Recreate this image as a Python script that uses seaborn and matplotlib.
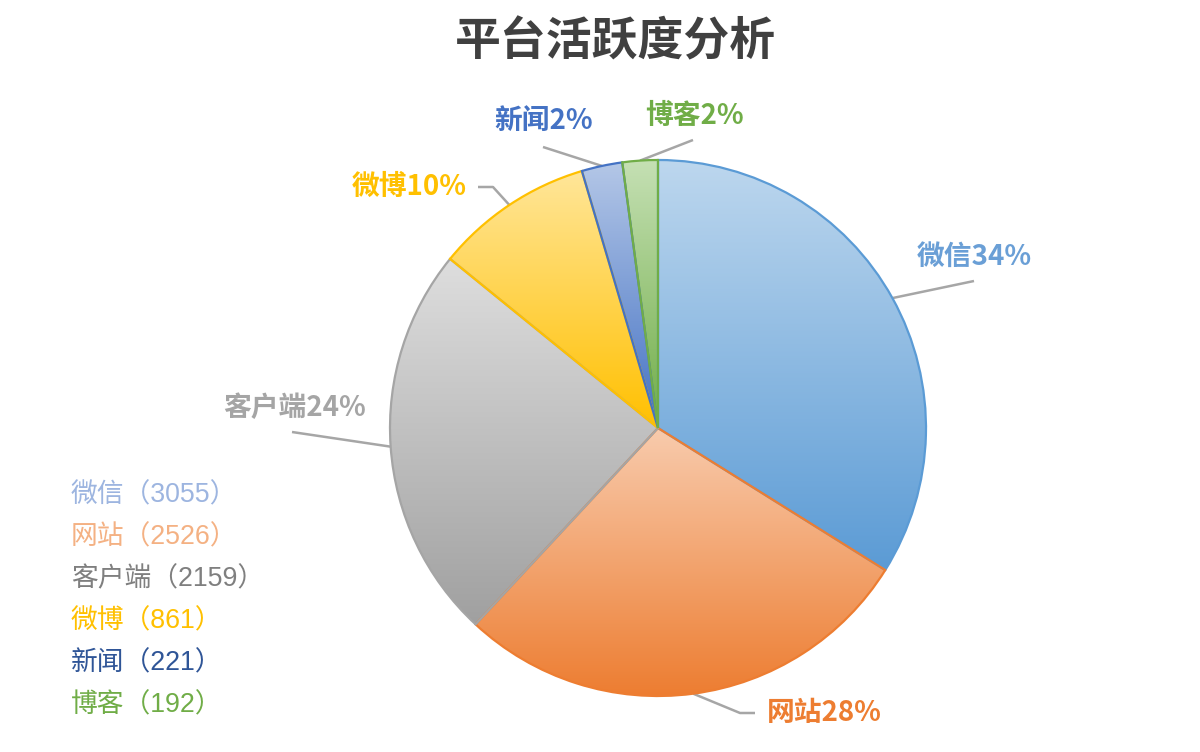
import numpy as np
import matplotlib
matplotlib.use("Agg")
import matplotlib.pyplot as plt
from matplotlib.colors import to_rgb
import seaborn as sns

# ---------------- data ----------------
categories = ["微信", "网站", "客户端", "微博", "新闻", "博客"]
values = [3055, 2526, 2159, 861, 221, 192]
title = "平台活跃度分析"

# ---------------- style ----------------
grad_top = ["#BDD7EE", "#F8CBAD", "#DEDEDE", "#FFE699", "#B4C7E7", "#C5E0B4"]
grad_bot = ["#5B9BD5", "#ED7D31", "#A0A0A0", "#FFC000", "#4472C4", "#70AD47"]
edge_cols = ["#5B9BD5", "#ED7D31", "#A5A5A5", "#FFC000", "#4472C4", "#70AD47"]
label_cols = ["#6A9FD6", "#ED7D31", "#A5A5A5", "#FFC000", "#4472C4", "#70AD47"]
legend_cols = ["#9DB5E0", "#F4B183", "#7F7F7F", "#FFC000", "#2F5597", "#70AD47"]

sns.set_theme(style="white")
plt.rcParams["font.family"] = ["Noto Sans CJK SC", "DejaVu Sans"]

W, H = 1200, 752
fig = plt.figure(figsize=(W / 100, H / 100), dpi=100)
ax = fig.add_axes([0, 0, 1, 1])


def P(x, y):
    """pixel (y down) -> data coords (y up)"""
    return x, H - y


cx, cy = P(658, 428)
R = 268

wedges, _ = ax.pie(values, startangle=90, counterclock=False,
                   center=(cx, cy), radius=R, frame=True)

for i, w in enumerate(wedges):
    ext = w.get_path().get_extents()
    c0 = np.array(to_rgb(grad_bot[i]))
    c1 = np.array(to_rgb(grad_top[i]))
    t = np.linspace(0, 1, 256)[:, None]
    img = (c0 * (1 - t) + c1 * t)[:, None, :]
    im = ax.imshow(img, extent=[ext.x0, ext.x1, ext.y0, ext.y1],
                   origin="lower", aspect="auto", zorder=1,
                   interpolation="bilinear")
    im.set_clip_path(w)
    w.set_facecolor("none")
    w.set_edgecolor(edge_cols[i])
    w.set_linewidth(1.6)
    w.set_zorder(2)

# ---------------- data labels with leader lines ----------------
total = sum(values)
# text anchor (pixel), alignment, leader waypoints after the edge point (pixel)
label_layout = [
    dict(text=(917, 257), ha="left", pts=[(974, 281)]),
    dict(text=(767, 713), ha="left", pts=[(740, 713), (755, 713)]),
    dict(text=(366, 408), ha="right", pts=[(292, 432)]),
    dict(text=(467, 187), ha="right", pts=[(493, 187), (478, 187)]),
    dict(text=(593, 121), ha="right", pts=[(543, 147)]),
    dict(text=(645, 116), ha="left", pts=[(693, 140)]),
]
for i, w in enumerate(wedges):
    th = np.deg2rad((w.theta1 + w.theta2) / 2)
    ex, ey = cx + R * np.cos(th), cy + R * np.sin(th)
    lay = label_layout[i]
    xs = [ex] + [P(*p)[0] for p in lay["pts"]]
    ys = [ey] + [P(*p)[1] for p in lay["pts"]]
    ax.plot(xs, ys, color="#A6A6A6", lw=1.8, zorder=0.5, solid_capstyle="butt")
    pct = round(values[i] / total * 100)
    tx, ty = P(*lay["text"])
    ax.text(tx, ty, f"{categories[i]}{pct}%", ha=lay["ha"], va="center",
            fontsize=20, fontweight="bold", color=label_cols[i], zorder=3)

# ---------------- legend-like text list ----------------
for i, (c, v) in enumerate(zip(categories, values)):
    lx, ly = P(71, 495 + 42 * i)
    ax.text(lx, ly, f"{c}（{v}）", ha="left", va="center", fontsize=19.3,
            color=legend_cols[i],
            family=["Liberation Sans", "Noto Sans CJK SC", "DejaVu Sans"])

# ---------------- title ----------------
tx, ty = P(615, 42)
ax.text(tx, ty, title, ha="center", va="center", fontsize=33,
        fontweight="bold", color="#404040")

ax.set_xlim(0, W)
ax.set_ylim(0, H)
ax.set_aspect("auto")
ax.axis("off")

fig.savefig("out.png", dpi=100, facecolor="white")
